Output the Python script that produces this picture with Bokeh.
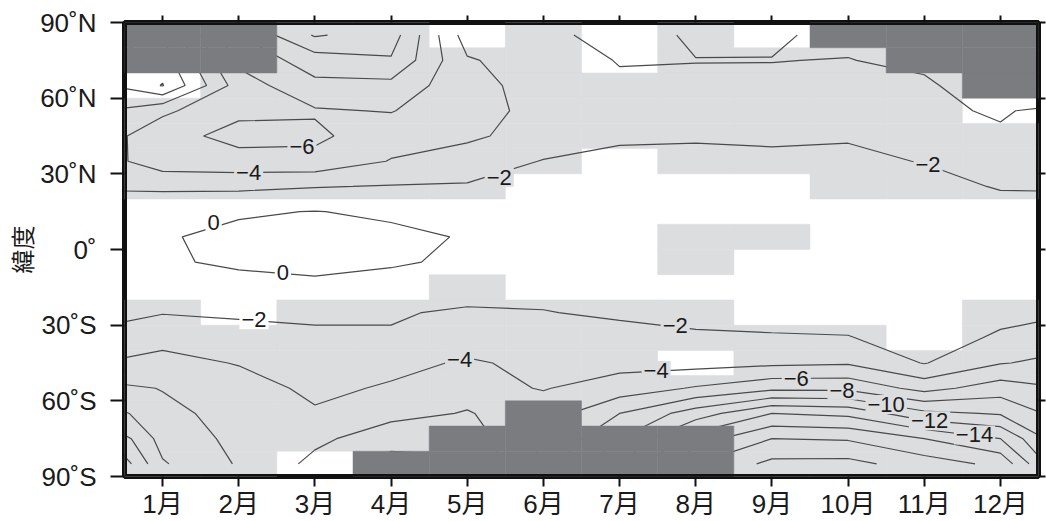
import numpy as np
from bokeh.plotting import figure
from bokeh.models import Range1d, FixedTicker, LinearAxis, ColumnDataSource
from bokeh.core.properties import value
from bokeh.embed import file_html
from bokeh.resources import INLINE

# ---- data -------------------------------------------------------------
months = list(range(1, 13))
month_labels = [f"{m}月" for m in months]

lat_ticks = [-90, -60, -30, 0, 30, 60, 90]
lat_tick_labels = ["90˚S", "60˚S", "30˚S", "0˚", "30˚N", "60˚N", "90˚N"]

# band centres of the zonal-mean field, 85N -> 85S
lat_centers = [85, 75, 65, 55, 45, 35, 25, 15, 5, -5, -15, -25, -35, -45, -55, -65, -75, -85]

# zonal-mean trend for each month, same order as lat_centers
jan = [0.0, 1.0, 2.1, -3.6, -5.3, -5.0, -2.5, -0.1, -0.15, -0.3, -1.0, -1.9, -3.4, -4.6, -5.9, -6.6, -7.2, -8.2]
feb = [-8.0, -6.5, -5.0, -5.6, -6.6, -5.3, -2.4, -0.2, 0.43, 0.4, -0.9, -1.7, -2.8, -3.9, -4.8, -5.2, -5.5, -5.8]
mar = [-12.2, -9.0, -7.5, -5.8, -6.4, -5.4, -2.1, 0.05, 0.6, 0.5, -0.4, -1.9, -2.1, -2.9, -3.6, -4.2, -4.4, -3.5]
apr = [-11.0, -9.8, -7.4, -6.1, -4.8, -3.9, -1.9, -0.3, 0.4, 0.2, -0.7, -1.8, -2.2, -3.5, -4.2, -4.5, -3.0, -1.0]
may = [-3.0, -4.2, -4.6, -4.5, -4.3, -3.2, -1.8, -0.8, -0.12, -0.3, -1.0, -2.3, -3.2, -4.2, -4.6, -3.9, -3.0, -1.5]
jun = [-2.8, -3.0, -3.3, -3.6, -3.3, -1.9, -1.4, -0.7, -0.4, -0.5, -1.2, -2.1, -3.0, -3.6, -3.9, -4.9, -6.0, -7.0]
jul = [-0.8, -1.9, -2.3, -2.5, -2.3, -1.5, -0.9, -0.5, -0.4, -0.5, -1.0, -1.6, -2.9, -3.4, -4.9, -8.0, -10.0, -12.0]
aug = [-2.4, -1.95, -2.4, -2.6, -2.2, -1.5, -1.0, -0.7, -0.5, -0.5, -1.0, -1.6, -2.2, -3.3, -6.2, -11.0, -15.0, -18.0]
sep = [-2.2, -1.97, -2.3, -2.5, -2.3, -1.6, -0.9, -0.6, -0.4, -0.4, -0.7, -1.2, -2.2, -3.6, -7.5, -14.0, -18.0, -20.5]
oct_ = [-1.6, -2.05, -2.4, -2.6, -2.2, -1.5, -0.9, -0.5, -0.3, -0.3, -0.6, -1.1, -2.1, -3.8, -7.5, -13.5, -17.8, -20.6]
nov = [-1.0, -1.6, -2.3, -2.7, -2.6, -2.1, -1.1, -0.6, -0.3, -0.3, -0.4, -0.6, -1.0, -1.9, -5.3, -10.5, -16.0, -19.0]
dec = [-0.2, -0.2, -0.8, -1.6, -2.5, -2.8, -2.2, -0.9, -0.4, -0.4, -0.8, -1.4, -2.3, -3.9, -7.0, -9.8, -14.0, -17.5]
trend = [jan, feb, mar, apr, may, jun, jul, aug, sep, oct_, nov, dec]

# state of each 10-degree band, 90N -> 90S:
# "S" significant, "D" no data, "." not significant
cells = [
    "DD.SSSS....SSSSSSS",
    "DDSSSSS.....SSSSSS",
    "SSSSSSS....SSSSSS.",
    "SSSSSSS....SSSSSSD",
    ".SSSSSS...SSSSSSDD",
    "SSSSSS.....SSSSDDD",
    "..SSS......SSSSSDD",
    "SSSSSS..SS.SS.SSDD",
    ".SSSSS..S...SSSSSS",
    "DSSSSSS.....SSSSSS",
    "DDSSSSS......SSSSS",
    "DDD.SSS....SSSSSSS",
]

levels = list(range(-20, 3, 2))

# contour labels: (level, month position, latitude window)
label_specs = [
    (0, 1.67, 5, 15), (0, 2.58, -15, -5),
    (-6, 2.83, 35, 45), (-4, 2.13, 25, 35),
    (-2, 5.42, 25, 40), (-2, 11.05, 25, 40),
    (-2, 2.2, -35, -25), (-2, 7.73, -35, -25),
    (-4, 4.9, -50, -35), (-4, 7.48, -55, -45),
    (-6, 9.32, -55, -45), (-8, 9.92, -60, -50),
    (-10, 10.5, -65, -55), (-12, 11.07, -70, -60),
    (-14, 11.66, -75, -65),
]

# ---- styling --------------------------------------------------------------
LIGHT = "#dcdddf"
DARK = "#7b7c80"
LINE = "#4a4a4a"
INK = "#1a1a1a"
FONT = "Liberation Sans, Noto Sans CJK JP"

p = figure(width=1046, height=521, x_range=Range1d(0.5, 12.5), y_range=Range1d(-90, 90),
           output_backend="svg", toolbar_location=None,
           min_border_left=124, min_border_right=8, min_border_top=22, min_border_bottom=41)
p.grid.visible = False
p.background_fill_color = "white"
p.outline_line_color = "#111111"
p.outline_line_width = 5

# shaded cells
light = dict(left=[], right=[], top=[], bottom=[])
dark = dict(left=[], right=[], top=[], bottom=[])
for m, col in zip(months, cells):
    for i, state in enumerate(col):
        target = light if state == "S" else dark if state == "D" else None
        if target is None:
            continue
        target["left"].append(m - 0.5)
        target["right"].append(m + 0.5)
        target["top"].append(90 - 10 * i)
        target["bottom"].append(80 - 10 * i)
p.quad(source=ColumnDataSource(light), left="left", right="right", top="top", bottom="bottom",
       fill_color=LIGHT, line_color=LIGHT, line_width=0.5)

# contour lines (months wrapped one step each side so lines reach the frame)
z = np.array(trend, dtype=float).T[::-1]          # rows: ascending latitude
lat_asc = np.array(lat_centers[::-1], dtype=float)
zw = np.hstack([z[:, -1:], z, z[:, :1]])
xw = np.arange(0, 14, dtype=float)
p.contour(xw, lat_asc, zw, levels=levels, line_color=LINE, line_width=1.2)

p.quad(source=ColumnDataSource(dark), left="left", right="right", top="top", bottom="bottom",
       fill_color=DARK, line_color=DARK, line_width=0.5)


def crossing(level, mpos, lo, hi):
    i0 = int(np.floor(mpos))
    f = mpos - i0
    col = zw[:, i0] * (1 - f) + zw[:, i0 + 1] * f
    for j in range(len(lat_asc) - 1):
        a, b = col[j], col[j + 1]
        if a != b and (a - level) * (b - level) <= 0:
            y = lat_asc[j] + (level - a) / (b - a) * (lat_asc[j + 1] - lat_asc[j])
            if lo <= y <= hi:
                return y
    return 0.5 * (lo + hi)


lx, ly, lt, lbg = [], [], [], []
for lev, mpos, lo, hi in label_specs:
    y = crossing(lev, mpos, lo, hi)
    mi = min(max(int(round(mpos)), 1), 12)
    band = min(max(int((90 - y) // 10), 0), 17)
    state = cells[mi - 1][band]
    lx.append(mpos)
    ly.append(y)
    lt.append(str(lev).replace("-", "\u2212"))
    lbg.append(LIGHT if state == "S" else "white")

p.text(source=ColumnDataSource(dict(x=lx, y=ly, text=lt, bg=lbg)), x="x", y="y", text="text",
       text_align="center", text_baseline="middle", text_font=value("Liberation Sans"),
       text_font_size="22px", text_color=INK, background_fill_color="bg", padding=2)

# heavy frame on top of the shading (inner half; the outline supplies the outer half)
p.rect(x=[6.5], y=[0], width=[12], height=[180], fill_color=None,
       line_color="#111111", line_width=5)

# axes
xa = p.xaxis[0]
xa.ticker = FixedTicker(ticks=months)
xa.major_label_overrides = {m: lab for m, lab in zip(months, month_labels)}
ya = p.yaxis[0]
ya.ticker = FixedTicker(ticks=lat_ticks)
ya.major_label_overrides = {t: lab for t, lab in zip(lat_ticks, lat_tick_labels)}
ya.axis_label = "緯度"
ya.axis_label_text_font = FONT
ya.axis_label_text_font_size = "24px"
ya.axis_label_text_font_style = "normal"
ya.axis_label_text_color = INK
ya.axis_label_standoff = 0

for ax in (xa, ya):
    ax.axis_line_color = None
    ax.minor_tick_line_color = None
    ax.major_tick_line_color = "#111111"
    ax.major_tick_line_width = 2
    ax.major_tick_in = 0
    ax.major_label_text_font = FONT
    ax.major_label_text_font_size = "26px"
    ax.major_label_text_color = INK
xa.major_tick_out = 10
xa.major_label_standoff = 2
ya.major_tick_out = 14
ya.major_label_standoff = 14

top = LinearAxis(ticker=FixedTicker(ticks=months),
                 major_label_overrides={m: "" for m in months},
                 major_label_standoff=0, axis_line_color=None, minor_tick_line_color=None,
                 major_tick_in=0, major_tick_out=7, major_tick_line_width=2,
                 major_tick_line_color="#111111")
right = LinearAxis(ticker=FixedTicker(ticks=lat_ticks),
                   major_label_overrides={t: "" for t in lat_ticks},
                   major_label_standoff=0, axis_line_color=None, minor_tick_line_color=None,
                   major_tick_in=0, major_tick_out=7, major_tick_line_width=2,
                   major_tick_line_color="#111111")
p.add_layout(top, "above")
p.add_layout(right, "right")

open("out.html", "w").write(file_html(p, INLINE))
